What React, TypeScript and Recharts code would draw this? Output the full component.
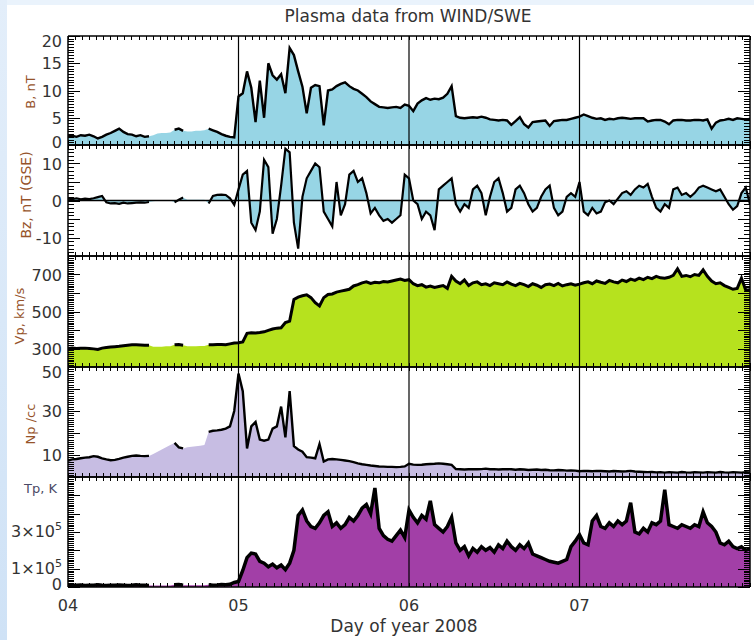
import React from "react";
import { ComposedChart, Area, Line, XAxis, YAxis, ReferenceLine } from "recharts";

// ---------- data ----------
const START_DAY = 4;
const SAMPLES_PER_DAY = 40; // one sample every 36 minutes
const DAY_LABELS = ["04", "05", "06", "07"];
const DAY_BOUNDARIES = [5, 6, 7];
// sample-index ranges where the measured curve is missing (fill only)
const LINE_GAPS = [[20, 24], [28, 32]];

const B_NT = [
  1.6, 1.7, 1.5, 1.8, 1.7, 1.9, 1.6, 1.2, 1.5, 1.9, 2.2, 2.6, 3.0, 2.4, 2.0, 1.9, 1.6, 1.8, 1.5, 1.6,
  1.8, 2.1, 2.2, 2.2, 2.3,
  2.8, 3.0, 2.6,
  2.5, 2.5, 2.6, 2.6, 2.7,
  3.0, 2.7, 2.4, 2.0, 1.7, 1.5, 1.4,
  8.9, 9.5, 13.5, 10.5, 4.2, 11.8, 5.0, 15.0, 12.8, 12.0,
  13.0, 9.5, 17.8, 16.5, 13.5, 10.7, 5.8, 10.5, 11.0, 10.8,
  3.6, 10.0, 10.2, 10.8, 11.2, 11.5, 10.8, 10.3, 10.0, 9.4,
  8.8, 8.0, 7.5, 7.0, 6.9, 6.8, 6.9, 7.0, 6.8, 7.4,
  7.2, 6.2, 7.6, 8.2, 8.6, 8.3, 8.5, 8.4, 8.7, 9.4,
  10.8, 5.3, 5.0, 4.9, 5.0, 5.1, 5.0, 5.2, 5.0, 4.7,
  4.6, 4.5, 4.6, 4.5, 3.7, 4.4, 5.1, 3.8, 3.2, 4.2,
  4.3, 4.4, 4.5, 3.5, 4.4, 4.5, 4.6, 4.6, 4.8, 5.0,
  5.2, 5.6, 5.3, 5.0, 4.8, 4.9, 4.6, 4.8, 4.7, 4.9,
  5.0, 4.9, 4.8, 4.9, 4.9, 4.9, 4.3, 4.5, 4.6, 4.6,
  4.3, 3.8, 4.5, 4.6, 4.6, 4.5, 4.5, 4.6, 4.6, 4.5,
  4.7, 3.0, 4.1, 4.5, 4.6, 4.8, 4.6, 4.9, 4.8, 4.7, 4.8,
];

const BZ_NT = [
  0.5, 0.4, 0.6, 0.3, 0.5, 0.4, 0.6, 0.9, 1.2, -0.5, -0.8, -0.7, -0.9, -0.6, -0.8, -0.7, -0.6, -0.5, -0.6, -0.4,
  -0.2, -0.1, 0, 0, 0,
  -0.5, 0.2, 0.8,
  0.2, 0.2, 0.2, 0.2, 0.2,
  -0.8, 1.2, 1.5, 1.6, 1.5, 0.6, -1.2,
  3, 7, 8, -6, -8, -3, 11, 9, -9, -5,
  4, 14, 13, -6, -13, 1, 6, 8, 10, 9,
  -3, -5, -7, 5, -4, -1, 7, 8, 5, 6,
  2, -3.5, -2, -4, -5.5, -5, -6, -5, -4, 7,
  6, 0, -1, -5, -3, -4, -8, 3, 4, 5,
  6, -1, -3, -1, -2, 3, 4, 2, -4, 1,
  5, 6, 2, -3, -2, 3, 4, 2, -1, -3,
  -2, 1, 3, 4, -2, -4, -3, 1, 2, 1,
  5, -3, -4, -2, -3.5, -3, -0.5, 0, -1, 0.5,
  2, 2.5, 1.5, 3, 4, 3.5, 4.5, 1, -2, -3,
  -1, -2, 3, 3.5, 1.5, 2, 1, 2, 3.5, 4,
  3.5, 3, 2.5, 3, 1, -1, -2.5, -1.5, 2, 3.5, -1,
];

const VP_KMS = [
  300, 302, 300, 301, 302, 300, 298, 295, 302, 305, 308, 310, 312, 315, 318, 320, 320, 319, 318, 318,
  310, 310, 310, 312, 312,
  320, 322, 318,
  312, 312, 312, 314, 314,
  320, 320, 321, 322, 320, 325, 330,
  331, 335, 382, 385, 384, 386, 390, 398, 405, 410,
  412, 440, 448, 565, 578, 585, 590, 575, 548, 530,
  575, 592, 595, 605, 610, 615, 620, 638, 645, 655,
  660, 652, 658, 655, 662, 660, 665, 670, 675, 668,
  672, 650, 640, 645, 632, 638, 630, 635, 640, 625,
  690, 665, 650, 670, 640, 655, 660, 645, 650, 640,
  655, 650, 645, 660, 648, 640, 652, 645, 635, 650,
  642, 630, 645, 648, 640, 652, 638, 645, 650, 642,
  648, 655, 660, 650, 665, 658, 652, 668, 660, 655,
  670, 662, 675, 668, 680, 672, 685, 678, 690, 682,
  680, 685, 695, 730, 690, 695, 688, 700, 695, 725,
  690, 665, 650, 655, 640, 630, 620, 625, 680, 615, 618,
];

const NP_CC = [
  7.5, 8.0, 8.2, 8.5, 8.8, 9.0, 9.5, 9.2, 8.5, 8.0, 7.6, 7.8, 8.2, 8.8, 9.2, 9.6, 9.8, 9.6, 9.5, 9.6,
  10.5, 11.5, 12.5, 13.5, 14.5,
  15.5, 13.5, 13.0,
  13.5, 13.8, 14.0, 14.2, 14.5,
  20.5, 21.0, 21.2, 21.5, 22.0, 23.0, 30.0,
  47, 39, 13, 23, 25, 17, 16.5, 17, 22, 23,
  32, 18, 39, 14, 12.5, 11.5, 9.0, 8.8, 8.5, 15,
  7.0, 8.0, 8.2, 8.0, 7.8, 7.5, 7.2, 6.8, 6.2, 5.8,
  5.5, 5.2, 5.0, 4.8, 4.7, 4.6, 4.6, 4.5, 4.6, 4.8,
  6.0, 5.6, 5.5, 5.6, 5.8, 5.9, 6.0, 6.2, 6.0, 5.8,
  5.5, 3.6, 3.5, 3.4, 3.5, 3.6, 3.5, 3.6, 3.8, 3.5,
  3.6, 3.4, 3.5, 3.6, 3.5, 3.3, 3.5, 3.4, 3.2, 3.3,
  3.4, 3.2, 3.3, 3.1, 3.0, 3.2, 3.1, 2.9, 3.0, 2.9,
  2.6, 2.8, 2.7, 2.6, 2.8, 2.7, 2.6, 2.5, 2.7, 2.6,
  2.5, 2.6, 2.8, 2.5, 2.4, 2.3, 2.2, 2.3, 2.1, 2.2,
  2.0, 2.2, 2.1, 2.0, 2.3, 2.1, 2.0, 2.2, 2.1, 2.0,
  2.2, 2.1, 2.0, 2.3, 2.1, 2.0, 2.2, 2.1, 2.0, 2.2, 2.1,
];

const TP_K = [
  8000, 10000, 9000, 11000, 8000, 9000, 10000, 12000, 9000, 8000, 10000, 9000, 11000, 10000, 8000, 9000, 12000, 10000, 9000, 8000,
  8000, 8000, 8000, 8000, 8000,
  12000, 14000, 10000,
  10000, 10000, 10000, 10000, 10000,
  12000, 10000, 11000, 13000, 12000, 15000, 25000,
  30000, 90000, 160000, 185000, 180000, 140000, 130000, 110000, 125000, 105000,
  120000, 95000, 130000, 200000, 390000, 420000, 360000, 330000, 320000, 350000,
  390000, 410000, 330000, 350000, 320000, 340000, 380000, 360000, 390000, 430000,
  450000, 400000, 540000, 320000, 280000, 260000, 250000, 280000, 310000, 270000,
  420000, 380000, 350000, 390000, 370000, 470000, 340000, 320000, 300000, 330000,
  380000, 240000, 200000, 220000, 170000, 210000, 190000, 220000, 200000, 215000,
  190000, 230000, 210000, 250000, 220000, 200000, 230000, 210000, 240000, 180000,
  170000, 160000, 150000, 140000, 135000, 130000, 140000, 150000, 220000, 250000,
  285000, 240000, 230000, 360000, 390000, 330000, 320000, 350000, 330000, 360000,
  340000, 360000, 460000, 300000, 290000, 320000, 300000, 350000, 340000, 360000,
  530000, 340000, 330000, 320000, 340000, 330000, 320000, 340000, 330000, 410000,
  350000, 330000, 300000, 240000, 230000, 250000, 220000, 210000, 220000, 200000, 210000,
];

// tick labels per panel
const B_LABELS = [0, 5, 10, 15, 20];
const BZ_LABELS = [-10, 0, 10];
const VP_LABELS = [300, 500, 700];
const NP_LABELS = [10, 30, 50];
const TP_LABELS = [0, 100000, 300000];

// ---------- helpers ----------
const inGap = (i: number) => LINE_GAPS.some(([a, b]) => i >= a && i <= b);

const rows = B_NT.map((_, i) => ({
  day: START_DAY + i / SAMPLES_PER_DAY,
  b: B_NT[i],
  bz: BZ_NT[i],
  vp: VP_KMS[i],
  np: NP_CC[i],
  tp: TP_K[i],
  bL: inGap(i) ? null : B_NT[i],
  bzL: inGap(i) ? null : BZ_NT[i],
  vpL: inGap(i) ? null : VP_KMS[i],
  npL: inGap(i) ? null : NP_CC[i],
  tpL: inGap(i) ? null : TP_K[i],
}));

const HOUR_TICKS = Array.from({ length: 97 }, (_, h) => START_DAY + h / 24);

const steps = (a: number, b: number, step: number) => {
  const out: number[] = [];
  const n = Math.round((b - a) / step);
  for (let k = 0; k <= n; k++) out.push(+(a + k * step).toFixed(6));
  return out;
};
const near = (v: number, m: number) => Math.abs(v / m - Math.round(v / m)) < 1e-6;

const FONT = "'DejaVu Sans', 'Liberation Sans', sans-serif";
const TXT = "#333";
const AXIS = { stroke: "#000", strokeWidth: 1.5 };

type Panel = {
  key: string;
  top: number;
  height: number;
  domain: [number, number];
  minor: number;
  major: number;
  labels: number[];
  fill: string;
  width: number;
  sci?: boolean;
  zero?: boolean;
  last?: boolean;
};

const PANELS: Panel[] = [
  { key: "b", top: 36, height: 109, domain: [0, 20], minor: 0.5, major: 5, labels: B_LABELS, fill: "#97d5e5", width: 2.4 },
  { key: "bz", top: 145, height: 111, domain: [-15, 15], minor: 1, major: 5, labels: BZ_LABELS, fill: "#97d5e5", width: 2.2, zero: true },
  { key: "vp", top: 256, height: 111, domain: [200, 800], minor: 10, major: 100, labels: VP_LABELS, fill: "#b6e21e", width: 3 },
  { key: "np", top: 367, height: 110, domain: [0, 50], minor: 1, major: 10, labels: NP_LABELS, fill: "#c7bde3", width: 2.4 },
  { key: "tp", top: 477, height: 110, domain: [0, 600000], minor: 10000, major: 100000, labels: TP_LABELS, fill: "#a23fa7", width: 3.5, sci: true, last: true },
];

const PAD = 12;

const makeYLabel = (p: Panel) => (props: any) => {
  const { x, payload } = props;
  const v = Number(payload.value);
  // labels at the ends of an axis are kept inside the frame
  const shift = v === p.domain[1] ? 5 : v === p.domain[0] ? -3 : 0;
  const y = props.y + shift;
  if (p.sci && v !== 0) {
    const exp = Math.floor(Math.log10(v) + 1e-9);
    const mant = Math.round(v / Math.pow(10, exp));
    return (
      <text x={x - 6} y={y + 5} textAnchor="end" fontSize={16} fontFamily={FONT} fill={TXT}>
        <tspan>{`${mant}×10`}</tspan>
        <tspan dy={-7} fontSize={11}>{exp}</tspan>
      </text>
    );
  }
  return (
    <text x={x - 6} y={y + 6} textAnchor="end" fontSize={16} fontFamily={FONT} fill={TXT}>
      {String(v)}
    </text>
  );
};

// inward tick marks on both vertical frame edges, drawn at the reference line's ends
const makeTickShape = (len: number) => (props: any) => {
  const { x1, y1, x2 } = props;
  const l = Math.min(x1, x2);
  const r = Math.max(x1, x2);
  const y = Math.round(y1) + 0.5;
  return (
    <g shapeRendering="crispEdges">
      <line x1={l} y1={y} x2={l + len} y2={y} stroke="#000" strokeWidth={1} />
      <line x1={r - len} y1={y} x2={r} y2={y} stroke="#000" strokeWidth={1} />
    </g>
  );
};

const makeXTick = (side: "top" | "bottom", labels: boolean) => (props: any) => {
  const { x, y, payload } = props;
  const v = Number(payload.value);
  const dir = side === "bottom" ? -1 : 1;
  const isDay = near(v, 1);
  const idx = Math.round(v) - START_DAY;
  return (
    <g>
      <line x1={x} y1={y} x2={x} y2={y + dir * 4} stroke="#000" strokeWidth={1} shapeRendering="crispEdges" />
      {labels && isDay && idx >= 0 && idx < DAY_LABELS.length ? (
        <text x={x} y={y + 24} textAnchor="middle" fontSize={16} fontFamily={FONT} fill={TXT}>
          {DAY_LABELS[idx]}
        </text>
      ) : null}
    </g>
  );
};

const PanelChart = ({ p }: { p: Panel }) => {
  const xH = p.last ? 40 : 1;
  const bottomMargin = p.last ? 8 : PAD - 1;
  const h = PAD + p.height + xH + bottomMargin;
  const yTicks = steps(p.domain[0], p.domain[1], p.minor);
  return (
    <div style={{ position: "absolute", left: 0, top: p.top - PAD }}>
      <ComposedChart
        width={754}
        height={h}
        data={rows}
        margin={{ top: PAD - 1, right: 2, bottom: bottomMargin, left: 8 }}
      >
        <XAxis
          xAxisId="b"
          dataKey="day"
          type="number"
          domain={[4, 8]}
          allowDataOverflow
          ticks={HOUR_TICKS}
          interval={0}
          tickLine={false}
          tickSize={0}
          tickMargin={0}
          axisLine={AXIS}
          tick={makeXTick("bottom", !!p.last)}
          height={xH}
        />
        <XAxis
          xAxisId="t"
          orientation="top"
          dataKey="day"
          type="number"
          domain={[4, 8]}
          allowDataOverflow
          ticks={HOUR_TICKS}
          interval={0}
          tickLine={false}
          tickSize={0}
          tickMargin={0}
          axisLine={AXIS}
          tick={makeXTick("top", false)}
          height={1}
        />
        <YAxis
          yAxisId="l"
          type="number"
          domain={p.domain}
          allowDataOverflow
          ticks={p.labels}
          interval={0}
          tickLine={false}
          tickSize={0}
          tickMargin={0}
          axisLine={AXIS}
          tick={makeYLabel(p)}
          width={60}
        />
        <YAxis
          yAxisId="r"
          orientation="right"
          type="number"
          domain={p.domain}
          allowDataOverflow
          tick={false}
          tickLine={false}
          axisLine={AXIS}
          width={2}
        />
        <Area
          xAxisId="b"
          yAxisId="l"
          dataKey={p.key}
          type="linear"
          fill={p.fill}
          fillOpacity={1}
          stroke="none"
          baseValue={p.zero ? 0 : p.domain[0]}
          isAnimationActive={false}
          dot={false}
          activeDot={false}
        />
        <Line
          xAxisId="b"
          yAxisId="l"
          dataKey={p.key + "L"}
          type="linear"
          stroke="#000"
          strokeWidth={p.width}
          strokeLinejoin="miter"
          dot={false}
          activeDot={false}
          isAnimationActive={false}
        />
        {p.zero ? (
          <ReferenceLine xAxisId="b" yAxisId="l" y={0} stroke="#000" strokeWidth={1.5} />
        ) : null}
        {DAY_BOUNDARIES.map((d) => (
          <ReferenceLine key={"d" + d} xAxisId="b" yAxisId="l" x={d} stroke="#000" strokeWidth={1.2} />
        ))}
        {yTicks.map((v) => (
          <ReferenceLine
            key={"t" + v}
            xAxisId="b"
            yAxisId="l"
            y={v}
            shape={makeTickShape(near(v, p.major) ? 12 : 6)}
          />
        ))}
      </ComposedChart>
    </div>
  );
};

const LABEL_COLOR = "#96532a";

export default function App() {
  return (
    <div
      style={{
        position: "absolute",
        left: 0,
        top: 0,
        width: 754,
        height: 640,
        background: "#ffffff",
        overflow: "hidden",
      }}
    >
      <div style={{ position: "absolute", left: 0, top: 0, width: 754, height: 5, background: "#eaf3fc" }} />
      <div
        style={{
          position: "absolute",
          left: 0,
          top: 0,
          width: 7,
          height: 640,
          background: "linear-gradient(#e3eefa, #cfe2f6)",
        }}
      />
      {PANELS.map((p) => (
        <PanelChart key={p.key} p={p} />
      ))}
      <svg
        width={754}
        height={640}
        style={{ position: "absolute", left: 0, top: 0, pointerEvents: "none" }}
      >
        <text x={408} y={22} textAnchor="middle" fontSize={17} fontFamily={FONT} fill={TXT}>
          Plasma data from WIND/SWE
        </text>
        <text transform="translate(35,92) rotate(-90)" textAnchor="middle" fontSize={13} fontFamily={FONT} fill={LABEL_COLOR}>
          B, nT
        </text>
        <text transform="translate(31,195) rotate(-90)" textAnchor="middle" fontSize={14} fontFamily={FONT} fill={LABEL_COLOR}>
          Bz, nT (GSE)
        </text>
        <text transform="translate(24,316) rotate(-90)" textAnchor="middle" fontSize={13} fontFamily={FONT} fill={LABEL_COLOR}>
          Vp, km/s
        </text>
        <text transform="translate(35,424) rotate(-90)" textAnchor="middle" fontSize={13} fontFamily={FONT} fill={LABEL_COLOR}>
          Np /cc
        </text>
        <text x={24} y={493} fontSize={13} fontFamily={FONT} fill="#4a4a66">
          Tp, K
        </text>
        <text x={404} y={632} textAnchor="middle" fontSize={17} fontFamily={FONT} fill={TXT}>
          Day of year 2008
        </text>
      </svg>
    </div>
  );
}
